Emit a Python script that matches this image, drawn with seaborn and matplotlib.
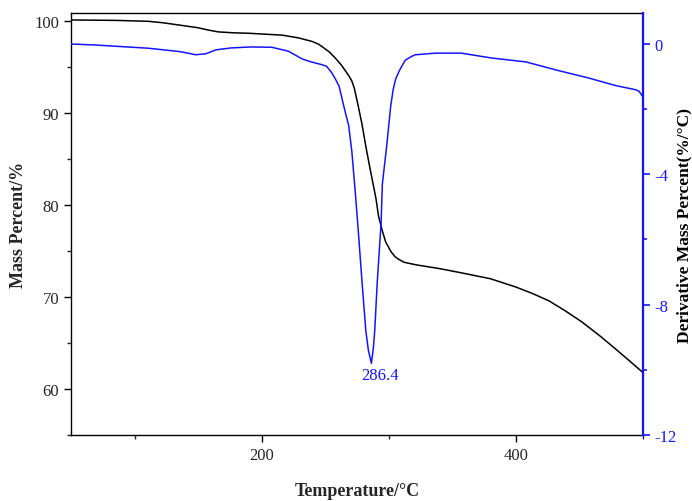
import matplotlib
matplotlib.use("Agg")
import matplotlib.pyplot as plt
from matplotlib.ticker import MultipleLocator
import seaborn as sns

# TG curve (mass percent)
temp_mass = [50, 86, 111, 122, 135, 150, 158, 166, 178, 190, 216, 229, 240, 245,
             250, 253, 258, 263, 266, 269, 271, 273, 276, 279, 282, 285, 287, 290,
             292, 295, 297.6, 300, 302, 305, 308, 312, 315, 322, 340, 355, 380,
             400, 413, 426, 439, 452, 466, 479, 490, 500]
mass_pct = [100.15, 100.1, 100.0, 99.85, 99.6, 99.3, 99.05, 98.85, 98.75, 98.7,
            98.5, 98.2, 97.8, 97.5, 97.0, 96.7, 96.0, 95.2, 94.6, 94.0, 93.5,
            92.7, 90.8, 88.8, 86.4, 84.2, 82.8, 80.7, 78.8, 77.2, 76.0, 75.4,
            74.9, 74.4, 74.1, 73.8, 73.7, 73.5, 73.1, 72.7, 72.0, 71.1, 70.4,
            69.6, 68.5, 67.3, 65.8, 64.3, 63.0, 61.8]

# DTG curve (derivative mass percent)
temp_dtg = [50, 69, 90, 111, 135, 142, 148, 156, 164, 176, 192, 208, 221, 232,
            239, 247, 251, 255, 258, 261, 264, 266.5, 268.5, 271, 274, 276, 279,
            282, 284, 286.4, 288, 289, 291, 294, 295, 298.5, 301.6, 303.5, 305.5,
            308, 310, 313, 318, 321, 337, 357, 381, 408, 434, 457, 479, 494, 497,
            500]
dtg_vals = [0.0, -0.03, -0.08, -0.13, -0.23, -0.28, -0.33, -0.3, -0.18, -0.12,
            -0.09, -0.1, -0.22, -0.46, -0.55, -0.63, -0.68, -0.87, -1.07, -1.3,
            -1.8, -2.2, -2.5, -3.3, -4.7, -5.7, -7.3, -8.8, -9.4, -9.8, -9.3,
            -8.8, -7.3, -5.5, -4.3, -3.1, -1.9, -1.4, -1.07, -0.85, -0.7, -0.5,
            -0.38, -0.33, -0.28, -0.28, -0.43, -0.55, -0.82, -1.04, -1.28, -1.4,
            -1.45, -1.62]

peak_t = 286.4
peak_v = -9.8
blue = "#1414ff"

sns.set_style("ticks")
plt.rcParams["font.family"] = ["Liberation Serif", "DejaVu Serif"]
plt.rcParams["axes.unicode_minus"] = False

fig = plt.figure(figsize=(6.92, 5.02), dpi=100)
ax = fig.add_axes([0.1026, 0.1315, 0.8264, 0.8405])
ax2 = ax.twinx()

sns.lineplot(x=temp_mass, y=mass_pct, ax=ax, color="black", linewidth=1.1)
sns.lineplot(x=temp_dtg, y=dtg_vals, ax=ax2, color=blue, linewidth=1.1)

ax.set_xlim(50, 500)
ax.set_ylim(55, 100.9)
ax2.set_ylim(-12, 0.95)

ax.xaxis.set_major_locator(MultipleLocator(200))
ax.xaxis.set_minor_locator(MultipleLocator(100))
ax.yaxis.set_major_locator(MultipleLocator(10))
ax.yaxis.set_minor_locator(MultipleLocator(5))
ax2.yaxis.set_major_locator(MultipleLocator(4))
ax2.yaxis.set_minor_locator(MultipleLocator(2))

ax.tick_params(axis="both", which="major", length=5, width=1, labelsize=12,
               direction="out", color="black")
ax.tick_params(axis="both", which="minor", length=3, width=1, direction="out")
ax2.tick_params(axis="y", which="major", length=5, width=1.2, labelsize=12,
                colors=blue, direction="out", pad=3)
ax2.tick_params(axis="y", which="minor", length=3, width=1.2, colors=blue,
                direction="out")

for name in ["left", "bottom", "top"]:
    ax.spines[name].set_color("black")
    ax.spines[name].set_linewidth(1)
ax2.spines["right"].set_color(blue)
ax2.spines["right"].set_linewidth(1.6)
ax2.spines["top"].set_visible(False)
ax2.spines["left"].set_visible(False)
ax2.spines["bottom"].set_visible(False)

ax.set_xlabel("Temperature/°C", fontsize=13, fontweight="bold", labelpad=14)
ax.set_ylabel("Mass Percent/%", fontsize=13, fontweight="bold", labelpad=5)
ax2.set_ylabel("Derivative Mass Percent(%/°C)", fontsize=12.5,
               fontweight="bold", labelpad=0, color="black")

ax2.annotate(f"{peak_t}", xy=(peak_t, peak_v), xytext=(6, -3),
             textcoords="offset points", ha="center", va="top",
             color=blue, fontsize=12)

fig.savefig("out.png", dpi=100)
